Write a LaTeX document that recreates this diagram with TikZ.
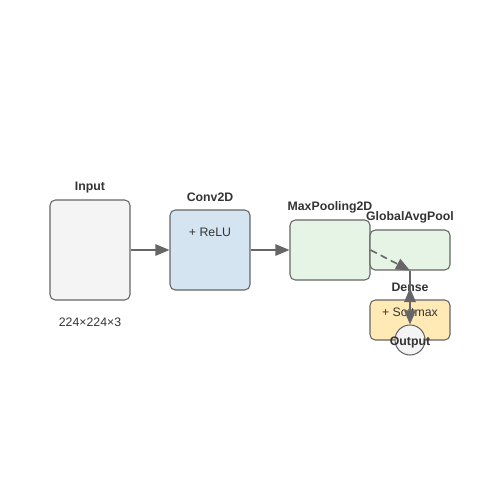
\documentclass[tikz,border=0pt]{standalone}
\usepackage{fontspec}
\setmainfont{Liberation Sans}
\usetikzlibrary{arrows.meta}
\definecolor{edge}{HTML}{666666}
\definecolor{inpfill}{HTML}{F4F4F4}
\definecolor{convfill}{HTML}{D4E4F0}
\definecolor{poolfill}{HTML}{E6F4E6}
\definecolor{densefill}{HTML}{FFEAB6}
\definecolor{txt}{HTML}{333333}
\tikzset{
  layer/.style={draw=edge, line width=0.6pt, rounded corners=3pt, inner sep=0pt},
  lbl/.style={font=\fontsize{7pt}{8pt}\selectfont\bfseries, text=txt, inner sep=0pt},
  sub/.style={font=\fontsize{7pt}{8pt}\selectfont, text=txt, inner sep=0pt},
  conn/.style={draw=edge, line width=0.9pt, -{Triangle[length=8pt,width=6.5pt]}},
}
\begin{document}
\begin{tikzpicture}[x=0.02cm, y=-0.02cm]
\useasboundingbox (0,0) rectangle (500,500);
% boxes
\node[layer, fill=inpfill, minimum width=80*0.02cm, minimum height=100*0.02cm] (inp) at (90,250) {};
\node[layer, fill=convfill, minimum width=80*0.02cm, minimum height=80*0.02cm] (conv) at (210,250) {};
\node[layer, fill=poolfill, minimum width=80*0.02cm, minimum height=60*0.02cm] (pool) at (330,250) {};
\node[layer, fill=poolfill, minimum width=80*0.02cm, minimum height=40*0.02cm] (gap) at (410,250) {};
\node[layer, fill=densefill, minimum width=80*0.02cm, minimum height=40*0.02cm] (dense) at (410,320) {};
% labels
\node[lbl] (inpl) at (90,187.5) {Input};
\node[sub] (inps) at (90,322.5) {224×224×3};
\node[lbl] (convl) at (210,197.5) {Conv2D};
\node[sub] (convs) at (210,232.5) {+ ReLU};
\node[lbl] (pooll) at (330,207.5) {MaxPooling2D};
\node[lbl] (gapl) at (410,217.5) {GlobalAvgPool};
\node[lbl] (densel) at (410,287.5) {Dense};
\node[sub] (denses) at (410,312.5) {+ Softmax};
% connectors
\draw[conn] (inp.east) -- (conv.west);
\draw[conn] (conv.east) -- (pool.west);
\draw[conn, dashed, dash pattern=on 4pt off 2.5pt] (pool.east) -- (gap.south);
\coordinate (up) at (410,288);
\draw[draw=edge, line width=0.9pt] (gap.south) -- (dense.north);
\draw[conn] (dense.north) -- (up);
% output
\node[draw=edge, line width=0.6pt, fill=inpfill, circle, minimum size=30*0.02cm, inner sep=0pt] (out) at (410,340) {};
\draw[conn] (dense.north) -- (out.north);
\node[lbl] (outl) at (410,342.5) {Output};
\end{tikzpicture}
\end{document}
